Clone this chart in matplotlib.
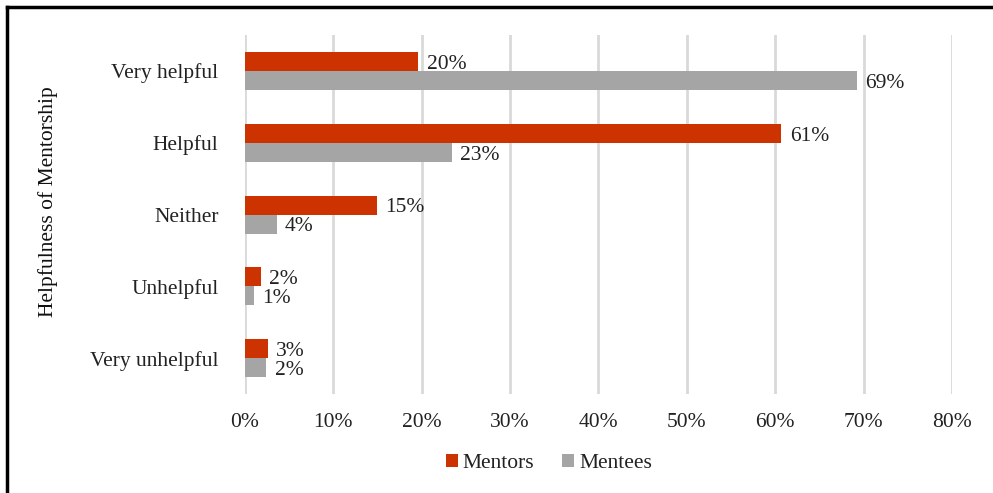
import matplotlib.pyplot as plt
from matplotlib.lines import Line2D
from matplotlib.ticker import PercentFormatter
import numpy as np

plt.rcParams['font.family'] = ['Liberation Serif', 'DejaVu Serif']

# Data
categories = ["Very helpful", "Helpful", "Neither", "Unhelpful", "Very unhelpful"]
mentors = [0.196, 0.607, 0.149, 0.018, 0.026]
mentees = [0.692, 0.234, 0.036, 0.010, 0.024]
series_names = ["Mentors", "Mentees"]
colors = ["#CC3300", "#A5A5A5"]

fs = 15.5

fig = plt.figure(figsize=(9.93, 4.93), dpi=100)
ax = fig.add_axes([0.2467, 0.2008, 0.712, 0.728])

y = np.arange(len(categories))
h = 0.265
b1 = ax.barh(y - h / 2, mentors, height=h, color=colors[0], label=series_names[0])
b2 = ax.barh(y + h / 2, mentees, height=h, color=colors[1], label=series_names[1])

# value labels, nudged a little below the bar centre like the original
for yy, vals in [(y - h / 2, mentors), (y + h / 2, mentees)]:
    for yi, v in zip(yy, vals):
        ax.annotate(f"{round(v * 100):.0f}%", (v, yi), xytext=(6, -2),
                    textcoords="offset points", ha="left", va="center",
                    fontsize=fs, color="#222222")

ax.set_ylim(len(categories) - 0.5, -0.5)
ax.set_xlim(0, 0.8)
ax.set_xticks(np.arange(0, 0.81, 0.1))
ax.xaxis.set_major_formatter(PercentFormatter(1.0, decimals=0))
ax.set_yticks(y)
ax.set_yticklabels(categories)
ax.tick_params(axis="both", length=0, labelsize=fs, colors="#222222")
ax.tick_params(axis="x", pad=14)
ax.tick_params(axis="y", pad=19)
ax.grid(axis="x", color="#D9D9D9", linewidth=2)
ax.set_axisbelow(True)
for s in ax.spines.values():
    s.set_visible(False)

ax.set_ylabel("Helpfulness of Mentorship", fontsize=fs, color="#111111")
ax.yaxis.set_label_coords(-0.265, 0.535)

fig.legend(loc="center", bbox_to_anchor=(0.553, 0.06), ncol=2, frameon=False,
           fontsize=fs, handlelength=0.55, handleheight=0.55, handletextpad=0.25,
           columnspacing=1.3, labelcolor="#222222")

# black frame at left and top
fig.add_artist(Line2D([0.0075, 0.0075], [0, 0.986], color="black", linewidth=2.5, transform=fig.transFigure))
fig.add_artist(Line2D([0.0075, 1], [0.986, 0.986], color="black", linewidth=2.5, transform=fig.transFigure))

fig.savefig("out.png", dpi=100)
